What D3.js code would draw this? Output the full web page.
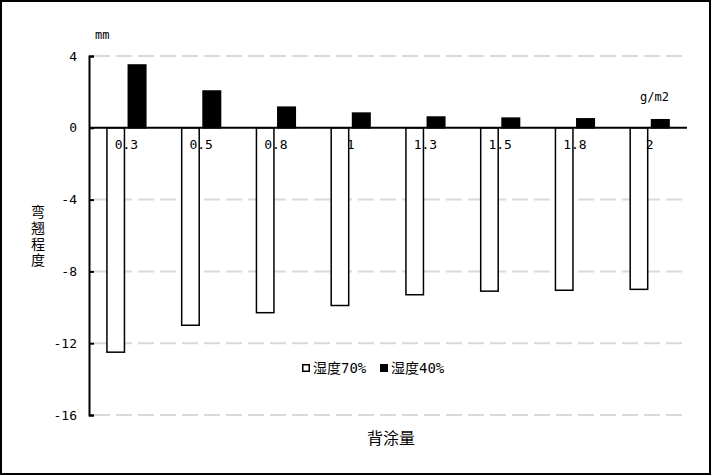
<!DOCTYPE html>
<html>
<head>
<meta charset="utf-8">
<script src="https://cdn.jsdelivr.net/npm/d3@7"></script>
<style>
  body { margin: 0; background: #fff; }
  text { font-family: "DejaVu Sans Mono", "Noto Sans CJK SC", monospace; fill: #000; }
</style>
</head>
<body>
<div id="chart_div"></div>
<script>
// categories (背涂量, g/m2)
const categories = ["0.3", "0.5", "0.8", "1", "1.3", "1.5", "1.8", "2"]
const seriesNames = ["湿度70%", "湿度40%"]
// 弯翘程度 (mm)
const humid70 = [-12.5, -11.0, -10.3, -9.9, -9.3, -9.1, -9.05, -9.0]
const humid40 = [3.5, 2.05, 1.15, 0.82, 0.6, 0.54, 0.5, 0.45]
const yTicks = [4, 0, -4, -8, -12, -16]

const seriesFill = ["#fff", "#000"]

const fullWidth = 711, fullHeight = 475
const margin = { top: 56, right: 24, bottom: 60, left: 89 },
  width = fullWidth - margin.left - margin.right,
  height = fullHeight - margin.top - margin.bottom

const svgRoot = d3.select("#chart_div")
  .append("svg")
  .attr("width", fullWidth)
  .attr("height", fullHeight)

// outer frame
svgRoot.append("rect")
  .attr("x", 1).attr("y", 1)
  .attr("width", fullWidth - 2).attr("height", fullHeight - 2)
  .attr("fill", "#fff")
  .attr("stroke", "#000")
  .attr("stroke-width", 2)

const svg = svgRoot.append("g")
  .attr("transform", `translate(${margin.left},${margin.top})`)

const x = d3.scaleBand()
  .domain(categories)
  .range([0, 598])

const x1 = d3.scaleBand()
  .domain(seriesNames)
  .range([x.bandwidth() * 0.24, x.bandwidth() * 0.76])
  .paddingInner(0.18)

const y = d3.scaleLinear()
  .domain([-16, 4])
  .range([359, 0])

// gridlines
svg.append("g")
  .selectAll("line")
  .data(yTicks.filter(d => d !== 0))
  .join("line")
  .attr("x1", 5)
  .attr("x2", 598)
  .attr("y1", d => y(d))
  .attr("y2", d => y(d))
  .attr("stroke", "#d9d9d9")
  .attr("stroke-width", 2)
  .attr("stroke-dasharray", "16,6")

// y axis (ticks point inward)
const yAxis = svg.append("g")
  .call(d3.axisRight(y).tickValues(yTicks).tickSize(5).tickFormat(""))
yAxis.select(".domain").attr("stroke-width", 2)
yAxis.selectAll(".tick line").attr("stroke-width", 2)

svg.append("g")
  .selectAll("text")
  .data(yTicks)
  .join("text")
  .attr("x", -12)
  .attr("y", d => y(d))
  .attr("dy", "0.35em")
  .attr("text-anchor", "end")
  .attr("font-size", 13)
  .text(d => d < 0 ? "-" + Math.abs(d) : d)

// bars
const rows = categories.map((c, i) => ({ cat: c, values: [humid70[i], humid40[i]] }))

svg.append("g")
  .selectAll("g")
  .data(rows)
  .join("g")
  .attr("transform", d => `translate(${x(d.cat)},0)`)
  .selectAll("rect")
  .data(d => d.values.map((v, j) => ({ name: seriesNames[j], v: v, j: j })))
  .join("rect")
  .attr("x", d => x1(d.name))
  .attr("width", x1.bandwidth())
  .attr("y", d => y(Math.max(0, d.v)))
  .attr("height", d => Math.abs(y(d.v) - y(0)))
  .attr("fill", d => seriesFill[d.j])
  .attr("stroke", "#000")
  .attr("stroke-width", 1.5)

// zero line (x axis, no ticks)
svg.append("line")
  .attr("x1", 0).attr("x2", 598)
  .attr("y1", y(0)).attr("y2", y(0))
  .attr("stroke", "#000")
  .attr("stroke-width", 2)

// category labels just under zero line
svg.append("g")
  .selectAll("text")
  .data(categories)
  .join("text")
  .attr("x", d => x(d) + x.bandwidth() / 2)
  .attr("y", y(0) + 17)
  .attr("dy", "0.35em")
  .attr("text-anchor", "middle")
  .attr("font-size", 13)
  .text(d => d)

// units
svgRoot.append("text")
  .attr("x", 95).attr("y", 35).attr("dy", "0.35em")
  .attr("font-size", 12)
  .text("mm")

svgRoot.append("text")
  .attr("x", 640).attr("y", 97).attr("dy", "0.35em")
  .attr("font-size", 12)
  .text("g/m2")

// y title, stacked characters
svgRoot.append("g")
  .selectAll("text")
  .data("弯翘程度".split(""))
  .join("text")
  .attr("x", 38)
  .attr("y", (d, i) => 212 + i * 16)
  .attr("dy", "0.35em")
  .attr("text-anchor", "middle")
  .attr("font-size", 14)
  .text(d => d)

// x title
svgRoot.append("text")
  .attr("x", 391).attr("y", 438).attr("dy", "0.35em")
  .attr("text-anchor", "middle")
  .attr("font-size", 16)
  .text("背涂量")

// legend
const legendX = [302, 380]
const legend = svgRoot.append("g")
  .selectAll("g")
  .data(seriesNames)
  .join("g")
  .attr("transform", (d, i) => `translate(${legendX[i]},368)`)

legend.append("rect")
  .attr("x", 0.75).attr("y", -3.25)
  .attr("width", 6.5).attr("height", 6.5)
  .attr("fill", (d, i) => seriesFill[i])
  .attr("stroke", "#000")
  .attr("stroke-width", 1.5)

legend.append("text")
  .attr("x", 11)
  .attr("y", 0)
  .attr("dy", "0.35em")
  .attr("font-size", 14)
  .text(d => d)
</script>
</body>
</html>
